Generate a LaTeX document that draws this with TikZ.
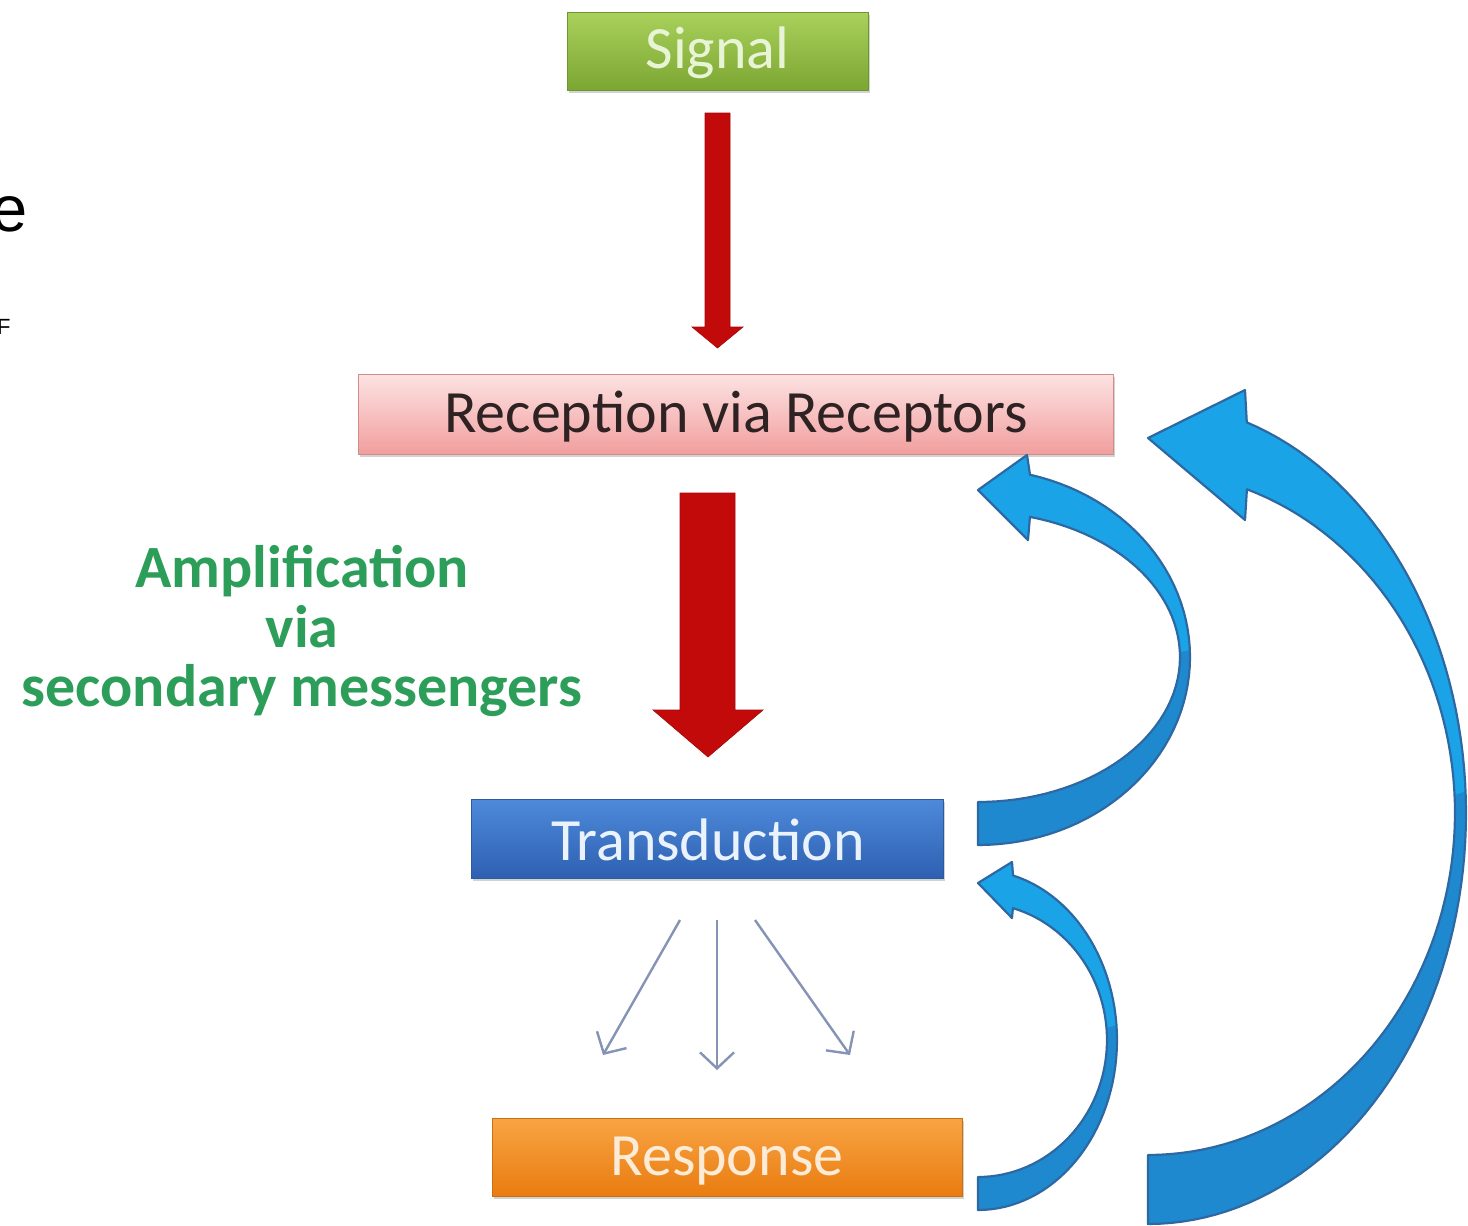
\documentclass[tikz,border=0pt]{standalone}
\usepackage{fontspec}
\setmainfont{Carlito}
\newfontfamily\arialf{Liberation Sans}
\usetikzlibrary{arrows.meta,shadows}
\definecolor{sigtop}{HTML}{A9D15C}
\definecolor{sigbot}{HTML}{7CA632}
\definecolor{sigline}{HTML}{6E9630}
\definecolor{sigtext}{HTML}{E8F4D6}
\definecolor{rectop}{HTML}{FCE3E3}
\definecolor{recbot}{HTML}{F29E9E}
\definecolor{recline}{HTML}{D58A8A}
\definecolor{rectext}{HTML}{2E2222}
\definecolor{trtop}{HTML}{4E8AD9}
\definecolor{trbot}{HTML}{2E60B2}
\definecolor{trline}{HTML}{2C5A9E}
\definecolor{trtext}{HTML}{EAF2FB}
\definecolor{retop}{HTML}{F8A444}
\definecolor{rebot}{HTML}{E97C10}
\definecolor{reline}{HTML}{C9700F}
\definecolor{retext}{HTML}{FCEBD6}
\definecolor{redarr}{HTML}{C20A0A}
\definecolor{bluelight}{HTML}{1AA3E6}
\definecolor{bluedark}{HTML}{1E89CF}
\definecolor{blueline}{HTML}{2E68A3}
\definecolor{grayarr}{HTML}{8593B4}
\definecolor{ampgreen}{HTML}{2C9E5A}
\begin{document}
\begin{tikzpicture}[x=1pt,y=-1pt,
  box/.style={rectangle, inner sep=0pt, line width=1pt,
    font=\fontsize{60}{62}\selectfont,
    drop shadow={shadow xshift=2pt,shadow yshift=-3pt,opacity=0.35}},
  redblock/.style={fill=redarr, draw=redarr!85!black, line width=0.6pt},
  bluelightfill/.style={fill=bluelight},
  bluedarkfill/.style={fill=bluedark},
  blueoutline/.style={draw=blueline, line width=2.2pt, line join=round},
  grayconn/.style={draw=grayarr, line width=2.4pt,
    -{Straight Barb[length=16pt,width=34pt,line width=2.4pt]}}
]
\useasboundingbox (0,0) rectangle (1468,1226);
\fill[white] (0,0) rectangle (1468,1226);

% boxes
\node[box, draw=sigline, top color=sigtop, bottom color=sigbot,
  minimum width=301pt, minimum height=78pt] (signal) at (717.5,51) {};
\node[text=sigtext, font=\fontsize{60}{62}\selectfont] (signaltxt) at (717.5,53) {Signal};
\node[box, draw=recline, top color=rectop, bottom color=recbot,
  minimum width=755pt, minimum height=80pt] (recep) at (735.5,414) {};
\node[text=rectext, font=\fontsize{60}{62}\selectfont] (receptxt) at (736,417) {Reception via Receptors};
\node[box, draw=trline, top color=trtop, bottom color=trbot,
  minimum width=472pt, minimum height=79pt] (trans) at (707,838.5) {};
\node[text=trtext, font=\fontsize{60}{62}\selectfont] (transtxt) at (708,840) {Transduction};
\node[box, draw=reline, top color=retop, bottom color=rebot,
  minimum width=470pt, minimum height=78pt] (resp) at (727,1157) {};
\node[text=retext, font=\fontsize{60}{62}\selectfont] (resptxt) at (727,1161) {Response};

% red block arrows
\path[redblock] (705,113) -- (730,113) -- (730,327) -- (743,327) -- (717.5,348)
  -- (692,327) -- (705,327) -- cycle;
\path[redblock] (680,493) -- (735,493) -- (735,710) -- (763,710) -- (708,757)
  -- (653,710) -- (680,710) -- cycle;

% amplification label
\node[text=ampgreen, font=\bfseries\fontsize{60}{59.5}\selectfont, align=center]
  (amp) at (302,631) {Amplification\\via\\secondary messengers};

% gray connectors
\coordinate (g1s) at (680,920); \coordinate (g1e) at (603,1055);
\coordinate (g2s) at (717,920); \coordinate (g2e) at (717,1070);
\coordinate (g3s) at (755,920); \coordinate (g3e) at (850,1055);
\draw[grayconn] (g1s) -- (g1e);
\draw[grayconn] (g2s) -- (g2e);
\draw[grayconn] (g3s) -- (g3e);

% blue curved arrow A (Transduction -> Reception)
\path[bluelightfill] plot[domain=90:-75.8,samples=60] ({978+212*cos(\x)},{657+188*sin(\x)})
  -- (1027,455) -- (978,490) -- (1028,540)
  -- plot[domain=-75.1:90,samples=60] ({978+202*cos(\x)},{657+145*sin(\x)}) -- cycle;
\path[bluedarkfill] plot[domain=90:-2,samples=50] ({978+212*cos(\x)},{657+188*sin(\x)})
  -- plot[domain=-2:90,samples=50] ({978+202*cos(\x)},{657+145*sin(\x)}) -- cycle;
\path[blueoutline] plot[domain=90:-75.8,samples=60] ({978+212*cos(\x)},{657+188*sin(\x)})
  -- (1027,455) -- (978,490) -- (1028,540)
  -- plot[domain=-75.1:90,samples=60] ({978+202*cos(\x)},{657+145*sin(\x)}) -- cycle;

% blue curved arrow B (Response -> Transduction)
\path[bluelightfill] plot[domain=90:-75.4,samples=60] ({978+139*cos(\x)},{1040+170*sin(\x)})
  -- (1012,862) -- (978,883) -- (1012,918)
  -- plot[domain=-74.3:90,samples=60] ({978+129*cos(\x)},{1040+137*sin(\x)}) -- cycle;
\path[bluedarkfill] plot[domain=90:-5,samples=50] ({978+139*cos(\x)},{1040+170*sin(\x)})
  -- plot[domain=-5:90,samples=50] ({978+129*cos(\x)},{1040+137*sin(\x)}) -- cycle;
\path[blueoutline] plot[domain=90:-75.4,samples=60] ({978+139*cos(\x)},{1040+170*sin(\x)})
  -- (1012,862) -- (978,883) -- (1012,918)
  -- plot[domain=-74.3:90,samples=60] ({978+129*cos(\x)},{1040+137*sin(\x)}) -- cycle;

% blue curved arrow C (Response -> Reception)
\path[bluelightfill] plot[domain=90:-71.9,samples=80] ({1148+318*cos(\x)},{813+411*sin(\x)})
  -- (1245,390) -- (1148,438) -- (1245,520)
  -- plot[domain=-71.2:90,samples=80] ({1148+307*cos(\x)},{813+342*sin(\x)}) -- cycle;
\path[bluedarkfill] plot[domain=90:-3,samples=60] ({1148+318*cos(\x)},{813+411*sin(\x)})
  -- plot[domain=-3:90,samples=60] ({1148+307*cos(\x)},{813+342*sin(\x)}) -- cycle;
\path[blueoutline] plot[domain=90:-71.9,samples=80] ({1148+318*cos(\x)},{813+411*sin(\x)})
  -- (1245,390) -- (1148,438) -- (1245,520)
  -- plot[domain=-71.2:90,samples=80] ({1148+307*cos(\x)},{813+342*sin(\x)}) -- cycle;

% cut-off text fragments at left edge
\begin{scope}
\clip (0,0) rectangle (1468,1226);
\node[anchor=base west, inner sep=0pt, font=\arialf\fontsize{65}{70}\selectfont] (fragA) at (-9,231) {e};
\node[anchor=base west, inner sep=0pt, font=\arialf\fontsize{22}{24}\selectfont] (fragB) at (-3,334) {F};
\end{scope}
\end{tikzpicture}
\end{document}
